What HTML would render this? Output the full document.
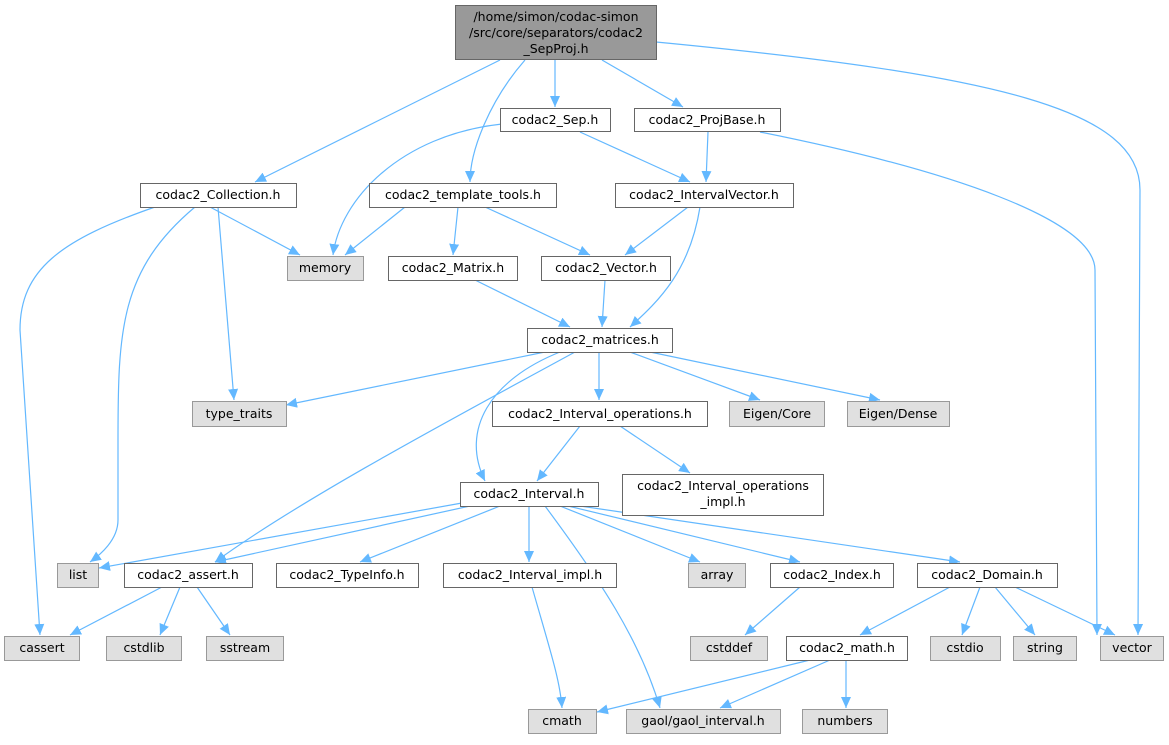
<!DOCTYPE html>
<html><head><meta charset="utf-8"><style>
html,body{margin:0;padding:0;background:#fff}
svg text{font-family:"DejaVu Sans","Liberation Sans",sans-serif;font-size:12.5px;fill:#000}
</style></head><body>
<svg width="1169" height="740" viewBox="0 0 1169 740" xmlns="http://www.w3.org/2000/svg">
<defs>
<marker id="a" markerWidth="12" markerHeight="10" refX="11" refY="5" orient="auto" markerUnits="userSpaceOnUse">
<path d="M0,0 L11,5 L0,10 Z" fill="#63b8ff"/>
</marker>
</defs>
<g fill="none" stroke="#63b8ff" stroke-width="1.2" marker-end="url(#a)">
<path d="M500,60 L255,182"/>
<path d="M525,60 C490,100 470,150 470,182"/>
<path d="M555,60 L555,107"/>
<path d="M602,60 L683,107"/>
<path d="M656,42 C1000,75 1140,110 1140,190 L1138,635"/>
<path d="M502,124 C400,135 340,200 333,255"/>
<path d="M580,132 L690,182"/>
<path d="M708,132 L706,182"/>
<path d="M760,132 C950,170 1095,220 1095,270 L1097,635"/>
<path d="M210,207 L300,255"/>
<path d="M218,207 L234,400"/>
<path d="M195,207 C120,270 118,330 118,440 L118,520 C118,540 100,555 90,562"/>
<path d="M155,207 C60,240 20,270 20,330 L40,635"/>
<path d="M405,207 L345,255"/>
<path d="M458,207 L453,255"/>
<path d="M485,207 L590,255"/>
<path d="M688,207 L625,255"/>
<path d="M700,207 C690,270 660,300 630,327"/>
<path d="M475,280 L570,327"/>
<path d="M605,280 L602,327"/>
<path d="M545,352 L286,405"/>
<path d="M575,352 C450,420 300,500 215,562"/>
<path d="M560,352 C490,380 460,430 485,481"/>
<path d="M599,352 L599,400"/>
<path d="M630,352 L760,400"/>
<path d="M650,352 L880,400"/>
<path d="M580,426 L537,481"/>
<path d="M620,426 L690,473"/>
<path d="M462,503 L99,568"/>
<path d="M470,506 L215,562"/>
<path d="M500,506 L360,562"/>
<path d="M529,506 L529,562"/>
<path d="M545,506 C600,580 640,640 660,708"/>
<path d="M560,506 L700,562"/>
<path d="M568,506 L800,562"/>
<path d="M580,506 L960,562"/>
<path d="M800,587 L745,635"/>
<path d="M950,587 L860,635"/>
<path d="M980,587 L962,635"/>
<path d="M995,587 L1035,635"/>
<path d="M1015,587 L1115,635"/>
<path d="M532,587 C550,650 560,680 562,708"/>
<path d="M810,660 L597,712"/>
<path d="M830,660 L720,708"/>
<path d="M846,660 L846,708"/>
<path d="M162,587 L70,635"/>
<path d="M180,587 L160,635"/>
<path d="M197,587 L230,635"/>
</g>
<g stroke-width="1">
<rect x="455.5" y="5.5" width="201" height="54" fill="#999" stroke="#666"/>
<g fill="#fff" stroke="#666">
<rect x="500.5" y="108.5" width="110" height="23"/>
<rect x="634.5" y="108.5" width="146" height="23"/>
<rect x="140.5" y="183.5" width="156" height="24"/>
<rect x="369.5" y="183.5" width="187" height="24"/>
<rect x="615.5" y="183.5" width="178" height="24"/>
<rect x="388.5" y="256.5" width="129" height="24"/>
<rect x="541.5" y="256.5" width="129" height="24"/>
<rect x="527.5" y="328.5" width="145" height="24"/>
<rect x="492.5" y="401.5" width="215" height="25"/>
<rect x="622.5" y="474.5" width="201" height="41"/>
<rect x="460.5" y="482.5" width="138" height="24"/>
<rect x="124.5" y="563.5" width="128" height="24"/>
<rect x="276.5" y="563.5" width="142" height="24"/>
<rect x="443.5" y="563.5" width="173" height="24"/>
<rect x="770.5" y="563.5" width="123" height="24"/>
<rect x="917.5" y="563.5" width="140" height="24"/>
<rect x="786.5" y="636.5" width="121" height="24"/>
</g>
<g fill="#e0e0e0" stroke="#999">
<rect x="287.5" y="256.5" width="76" height="24"/>
<rect x="192.5" y="401.5" width="94" height="25"/>
<rect x="729.5" y="401.5" width="95" height="25"/>
<rect x="847.5" y="401.5" width="102" height="25"/>
<rect x="57.5" y="563.5" width="41" height="24"/>
<rect x="688.5" y="563.5" width="57" height="24"/>
<rect x="4.5" y="636.5" width="75" height="24"/>
<rect x="106.5" y="636.5" width="75" height="24"/>
<rect x="206.5" y="636.5" width="77" height="24"/>
<rect x="690.5" y="636.5" width="77" height="24"/>
<rect x="930.5" y="636.5" width="70" height="24"/>
<rect x="1013.5" y="636.5" width="63" height="24"/>
<rect x="1100.5" y="636.5" width="63" height="24"/>
<rect x="528.5" y="709.5" width="68" height="24"/>
<rect x="626.5" y="709.5" width="154" height="24"/>
<rect x="802.5" y="709.5" width="85" height="24"/>
</g>
</g>
<g text-anchor="middle">
<text x="556" y="21">/home/simon/codac-simon</text>
<text x="556" y="37">/src/core/separators/codac2</text>
<text x="556" y="53">_SepProj.h</text>
<text x="555" y="124">codac2_Sep.h</text>
<text x="707" y="124">codac2_ProjBase.h</text>
<text x="218" y="199">codac2_Collection.h</text>
<text x="463" y="199">codac2_template_tools.h</text>
<text x="704" y="199">codac2_IntervalVector.h</text>
<text x="325" y="272">memory</text>
<text x="453" y="272">codac2_Matrix.h</text>
<text x="606" y="272">codac2_Vector.h</text>
<text x="600" y="344">codac2_matrices.h</text>
<text x="239" y="418">type_traits</text>
<text x="600" y="418">codac2_Interval_operations.h</text>
<text x="777" y="418">Eigen/Core</text>
<text x="898" y="418">Eigen/Dense</text>
<text x="723" y="490">codac2_Interval_operations</text>
<text x="723" y="506">_impl.h</text>
<text x="529" y="498">codac2_Interval.h</text>
<text x="78" y="579">list</text>
<text x="188" y="579">codac2_assert.h</text>
<text x="347" y="579">codac2_TypeInfo.h</text>
<text x="530" y="579">codac2_Interval_impl.h</text>
<text x="717" y="579">array</text>
<text x="832" y="579">codac2_Index.h</text>
<text x="987" y="579">codac2_Domain.h</text>
<text x="42" y="652">cassert</text>
<text x="144" y="652">cstdlib</text>
<text x="245" y="652">sstream</text>
<text x="729" y="652">cstddef</text>
<text x="847" y="652">codac2_math.h</text>
<text x="965" y="652">cstdio</text>
<text x="1045" y="652">string</text>
<text x="1132" y="652">vector</text>
<text x="562" y="725">cmath</text>
<text x="703" y="725">gaol/gaol_interval.h</text>
<text x="845" y="725">numbers</text>
</g>
</svg>
</body></html>
